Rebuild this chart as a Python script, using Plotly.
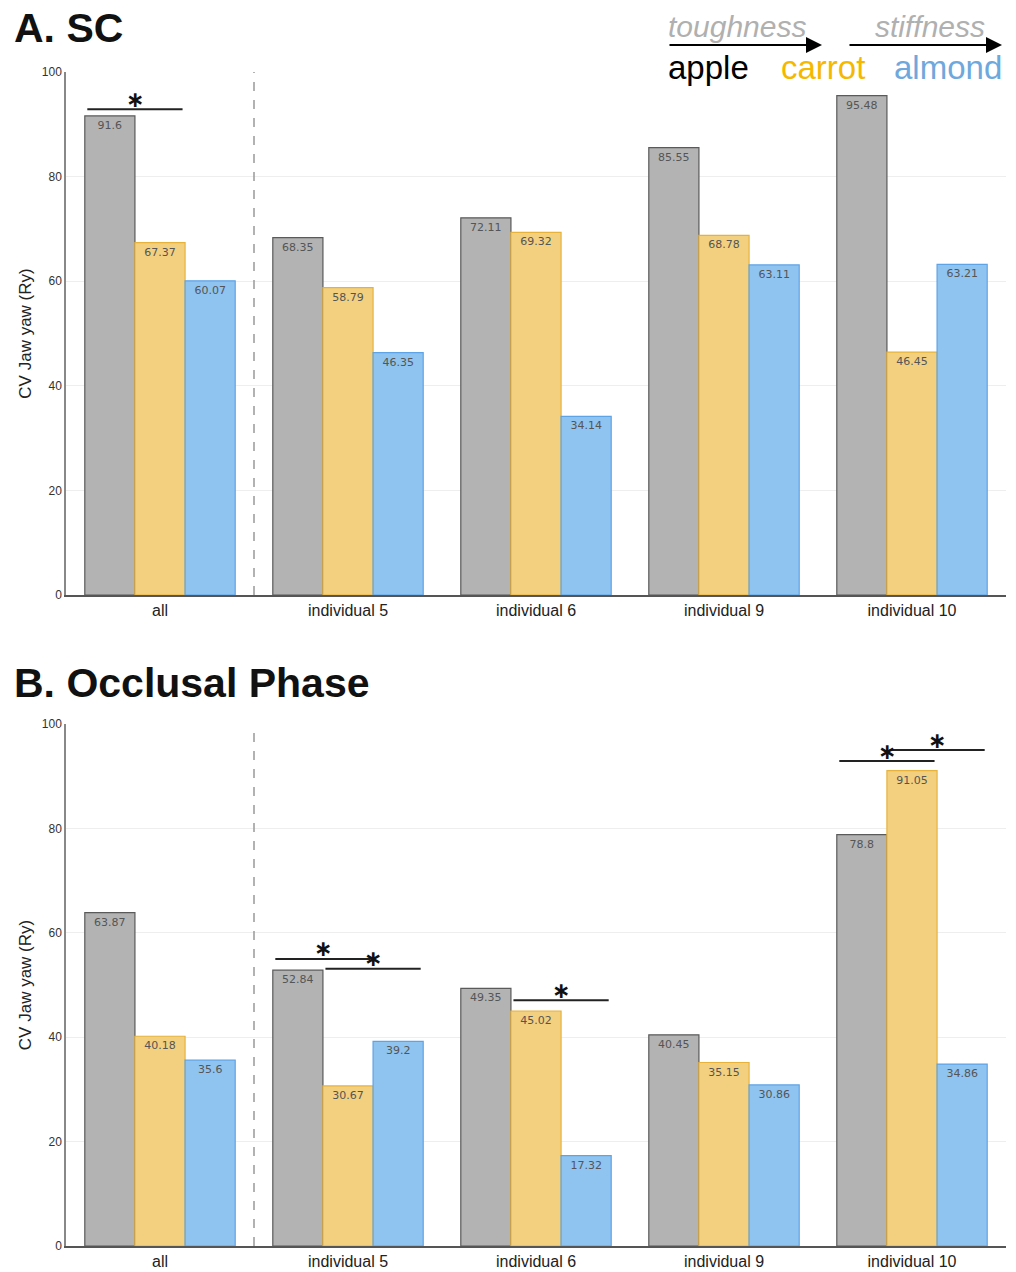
import plotly.graph_objects as go

categories = ["all", "individual 5", "individual 6", "individual 9", "individual 10"]
foods = ["apple", "carrot", "almond"]

sc_apple = [91.6, 68.35, 72.11, 85.55, 95.48]
sc_carrot = [67.37, 58.79, 69.32, 68.78, 46.45]
sc_almond = [60.07, 46.35, 34.14, 63.11, 63.21]

occ_apple = [63.87, 52.84, 49.35, 40.45, 78.8]
occ_carrot = [40.18, 30.67, 45.02, 35.15, 91.05]
occ_almond = [35.6, 39.2, 17.32, 30.86, 34.86]

y_ticks = [0, 20, 40, 60, 80, 100]

# significance comparisons: (panel, group index, food a, food b, bracket height)
sig_pairs = [
    (1, 0, 0, 1, 92.9),
    (2, 1, 0, 1, 55.0),
    (2, 1, 1, 2, 53.1),
    (2, 2, 1, 2, 47.1),
    (2, 4, 0, 1, 92.9),
    (2, 4, 1, 2, 95.0),
]

fill = ["#b3b3b3", "#f2d07f", "#8fc3f0"]
edge = ["#5a5a5a", "#e6b23c", "#5ea3e6"]

panels = [
    (1, [sc_apple, sc_carrot, sc_almond]),
    (2, [occ_apple, occ_carrot, occ_almond]),
]

fig = go.Figure()
for p, series in panels:
    xa = "x" if p == 1 else "x2"
    ya = "y" if p == 1 else "y2"
    for k, vals in enumerate(series):
        fig.add_trace(go.Bar(
            x=list(range(len(categories))), y=vals, name=foods[k],
            xaxis=xa, yaxis=ya,
            marker=dict(color=fill[k], line=dict(color=edge[k], width=1.2)),
            text=[str(v) for v in vals], textposition="inside",
            insidetextanchor="end", textangle=0,
            textfont=dict(family="DejaVu Sans", size=11, color="#555555"),
            showlegend=False,
        ))

n_food = len(foods)
bargap = 0.2
bw = (1 - bargap) / n_food

def bar_center(g, f):
    return g + (f - (n_food - 1) / 2) * bw

shapes = []
annotations = []
for p in (1, 2):
    xa = "x" if p == 1 else "x2"
    ya = "y" if p == 1 else "y2"
    shapes.append(dict(type="line", xref=xa, yref=ya, x0=0.5, x1=0.5, y0=0, y1=100,
                       line=dict(color="#999999", width=1.5, dash="dash")))

for p, g, a, b, h in sig_pairs:
    xa = "x" if p == 1 else "x2"
    ya = "y" if p == 1 else "y2"
    x0 = bar_center(g, a) - 0.12
    x1 = bar_center(g, b) + 0.12
    shapes.append(dict(type="line", xref=xa, yref=ya, x0=x0, x1=x1, y0=h, y1=h,
                       line=dict(color="#222222", width=2)))
    annotations.append(dict(xref=xa, yref=ya, x=(x0 + x1) / 2, y=h, text="<b>∗</b>",
                            showarrow=False, yanchor="middle", yshift=10,
                            font=dict(family="DejaVu Sans", size=22, color="#111111")))

def px_x(px):
    return (px - 66) / 940

def px_y(py):
    return (1246 - py) / 1174

# panel titles
annotations.append(dict(xref="paper", yref="paper", x=px_x(12), y=px_y(28), text="<b>A. SC</b>",
                        showarrow=False, xanchor="left", yanchor="middle",
                        font=dict(family="Liberation Sans", size=41, color="#111111")))
annotations.append(dict(xref="paper", yref="paper", x=px_x(12), y=px_y(683), text="<b>B. Occlusal Phase</b>",
                        showarrow=False, xanchor="left", yanchor="middle",
                        font=dict(family="Liberation Sans", size=41, color="#111111")))

# legend-like key
annotations.append(dict(xref="paper", yref="paper", x=px_x(737), y=px_y(26), text="<i>toughness</i>",
                        showarrow=False, xanchor="center", yanchor="middle",
                        font=dict(family="Liberation Sans", size=30, color="#b0b0b0")))
annotations.append(dict(xref="paper", yref="paper", x=px_x(930), y=px_y(26), text="<i>stiffness</i>",
                        showarrow=False, xanchor="center", yanchor="middle",
                        font=dict(family="Liberation Sans", size=30, color="#b0b0b0")))
for x_head, length in [(822, 154), (1002, 154)]:
    annotations.append(dict(xref="paper", yref="paper", x=px_x(x_head), y=px_y(45), text="",
                            showarrow=True, ax=-length, ay=0, axref="pixel", ayref="pixel",
                            arrowhead=2, arrowsize=1.6, arrowwidth=2, arrowcolor="#000000"))
key_colors = ["#000000", "#f5b800", "#6fa8dc"]
key_x = [708, 823, 948]
for k in range(n_food):
    annotations.append(dict(xref="paper", yref="paper", x=px_x(key_x[k]), y=px_y(67), text=foods[k],
                            showarrow=False, xanchor="center", yanchor="middle",
                            font=dict(family="Liberation Sans", size=33, color=key_colors[k])))

xaxis_common = dict(
    range=[-0.5, len(categories) - 0.5],
    tickmode="array", tickvals=list(range(len(categories))), ticktext=categories,
    showgrid=False, zeroline=False, showline=True, linecolor="#555555", linewidth=1.5,
    ticks="", ticklabelstandoff=0, automargin=False,
    tickfont=dict(family="Liberation Sans", size=16, color="#222222"),
)
yaxis_common = dict(
    range=[0, 100], tickmode="array", tickvals=y_ticks,
    showgrid=True, gridcolor="#eeeeee", zeroline=False, showline=True,
    linecolor="#888888", linewidth=1.5, ticks="", automargin=False,
    tickfont=dict(family="Liberation Sans", size=12, color="#333333"),
    title=dict(text="CV Jaw yaw (Ry)", standoff=6,
               font=dict(family="Liberation Sans", size=17, color="#222222")),
)

fig.update_layout(
    width=1016, height=1272,
    margin=dict(l=66, r=10, t=72, b=26),
    paper_bgcolor="white", plot_bgcolor="white",
    barmode="group", bargap=bargap, bargroupgap=0,
    xaxis=dict(**xaxis_common, domain=[0, 1], anchor="y"),
    yaxis=dict(**yaxis_common, domain=[px_y(595), 1], anchor="x"),
    xaxis2=dict(**xaxis_common, domain=[0, 1], anchor="y2"),
    yaxis2=dict(**yaxis_common, domain=[0, px_y(724)], anchor="x2"),
    shapes=shapes, annotations=annotations,
    uniformtext=dict(minsize=8, mode="show"),
)

fig.write_html("out.html", config={"displayModeBar": False},
               post_script="document.body.style.margin='0';document.body.style.overflow='hidden';")
